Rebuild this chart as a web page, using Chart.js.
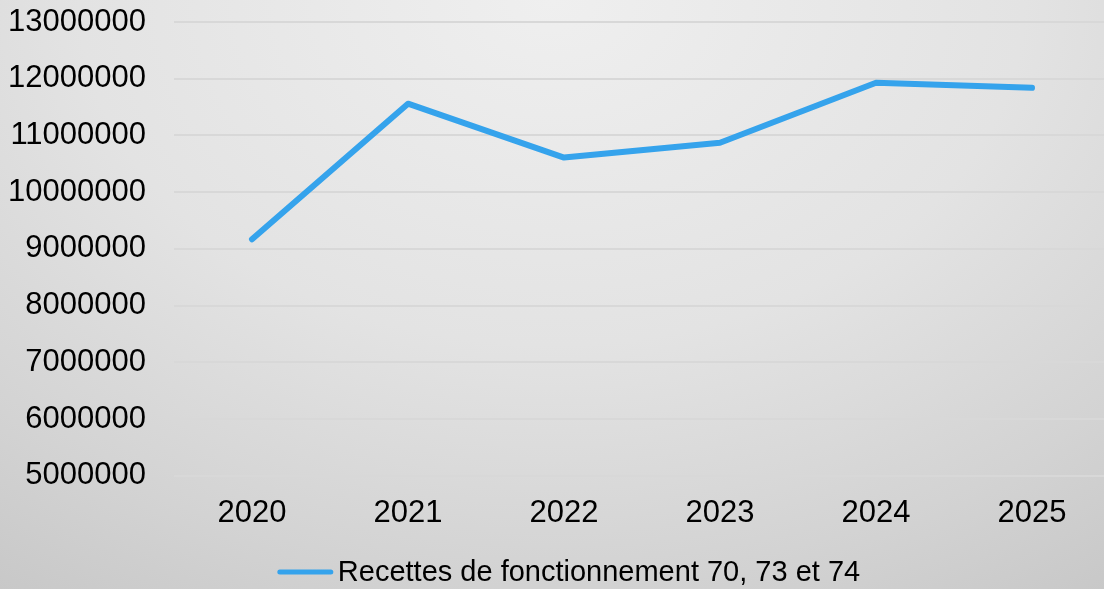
<!DOCTYPE html>
<html>
<head>
<meta charset="utf-8">
<script src="https://cdn.jsdelivr.net/npm/chart.js@4"></script>
<style>
    html, body {
        margin: 0;
        padding: 0;
        overflow: hidden;
        width: 1104px;
        height: 589px;
    }
    body {
        background: radial-gradient(ellipse 95% 130% at 50% 0%, #efefef 0%, #e3e3e3 45%, #d3d3d3 75%, #c4c4c4 100%);
    }
    #wrap {
        width: 1110px;
        height: 589px;
    }
</style>
</head>
<body>
<div id="wrap"><canvas id="recettesChart" width="1110" height="589"></canvas></div>
<script>
// Data
const years = ['2020', '2021', '2022', '2023', '2024', '2025'];
const recettes = [9170000, 11560000, 10610000, 10870000, 11930000, 11840000];
const seriesLabel = 'Recettes de fonctionnement 70, 73 et 74';
const yMin = 5000000;
const yMax = 13000000;
const yStep = 1000000;

const lineColor = '#35a3ec';
const fontFamily = '"Liberation Sans", Arial, sans-serif';
const fontSize = 31;
const legendFontSize = 29;

// Legend drawn under the axis: short line then the series name
const bottomLegend = {
    id: 'bottomLegend',
    afterDraw(chart) {
        const c = chart.ctx;
        const y = 572;
        c.save();
        c.font = `${legendFontSize}px ${fontFamily}`;
        const textW = c.measureText(seriesLabel).width;
        const lineW = 55;
        const gap = 5;
        const total = lineW + gap + textW;
        const startX = 569 - total / 2;
        c.strokeStyle = lineColor;
        c.lineWidth = 5;
        c.lineCap = 'round';
        c.beginPath();
        c.moveTo(startX + 2, y);
        c.lineTo(startX + lineW - 2, y);
        c.stroke();
        c.fillStyle = '#000';
        c.textBaseline = 'middle';
        c.fillText(seriesLabel, startX + lineW + gap, y + 1);
        c.restore();
    }
};

const ctx = document.getElementById('recettesChart').getContext('2d');
new Chart(ctx, {
    type: 'line',
    data: {
        labels: years,
        datasets: [{
            label: seriesLabel,
            data: recettes,
            borderColor: lineColor,
            borderWidth: 6,
            borderCapStyle: 'round',
            borderJoinStyle: 'round',
            pointRadius: 0,
            fill: false,
            tension: 0,
        }],
    },
    options: {
        responsive: false,
        animation: false,
        layout: {
            padding: { top: 22, right: 0, bottom: 38, left: 0 },
        },
        plugins: {
            legend: { display: false },
            tooltip: { enabled: false },
        },
        scales: {
            x: {
                offset: true,
                grid: { display: false, drawTicks: false },
                border: { display: false },
                ticks: {
                    color: '#000',
                    padding: 19,
                    font: { family: fontFamily, size: fontSize },
                    maxRotation: 0,
                },
            },
            y: {
                min: yMin,
                max: yMax,
                afterFit(scale) { scale.width = 174; },
                grid: {
                    color: '#d8d8d8',
                    lineWidth: 2,
                    drawTicks: true,
                    tickLength: 28,
                    tickColor: 'rgba(0,0,0,0)',
                },
                border: { display: false },
                ticks: {
                    stepSize: yStep,
                    color: '#000',
                    padding: 0,
                    font: { family: fontFamily, size: fontSize },
                    callback: value => String(value),
                },
            },
        },
    },
    plugins: [bottomLegend],
});
</script>
</body>
</html>
